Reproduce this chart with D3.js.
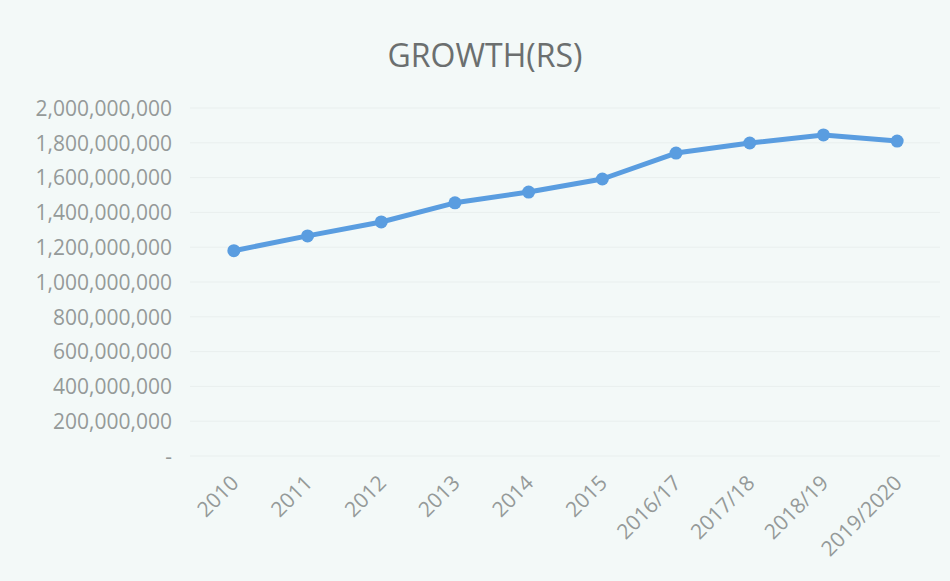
<!DOCTYPE html>
<html lang="en">
<head>
    <meta charset="UTF-8">
    <title>growth</title>
    <script src="https://d3js.org/d3.v7.min.js"></script>
    <style>
        body { margin: 0; background: #f3f9f8; }
        .axis text { font-family: "Open Sans", sans-serif; fill: #959a99; }
        .grid line { stroke: #e9efee; stroke-width: 1; }
    </style>
</head>
<body>
<script>
    const width = 950
    const height = 581

    const years = ['2010', '2011', '2012', '2013', '2014', '2015', '2016/17', '2017/18', '2018/19', '2019/2020']
    const growth = [1180000000, 1265000000, 1345000000, 1455000000, 1517000000, 1592000000, 1741000000, 1799000000, 1845000000, 1810000000]
    const yTicks = [0, 200000000, 400000000, 600000000, 800000000, 1000000000, 1200000000, 1400000000, 1600000000, 1800000000, 2000000000]

    const svg = d3.select("body").append("svg")
        .attr("width", width)
        .attr("height", height)

    svg.append("rect")
        .attr("width", width).attr("height", height)
        .attr("fill", "#f3f9f8")

    const xScale = d3.scaleBand()
        .domain(years)
        .range([197, 934])
    const yScale = d3.scaleLinear()
        .domain([0, 2000000000])
        .range([456, 108])

    // gridlines
    svg.append("g")
        .attr("class", "grid")
        .selectAll("line")
        .data(yTicks)
        .join("line")
        .attr("x1", 190).attr("x2", 940)
        .attr("y1", d => yScale(d)).attr("y2", d => yScale(d))

    const fmt = d3.format(",")
    const yAxis = d3.axisLeft(yScale)
        .tickValues(yTicks)
        .tickSize(0)
        .tickPadding(0)
        .tickFormat(d => d === 0 ? "-" : fmt(d))
    svg.append("g")
        .attr("class", "axis")
        .attr("transform", "translate(172,0)")
        .call(yAxis)
        .call(g => g.select(".domain").remove())
        .selectAll("text")
        .attr("font-size", 21)
        .attr("dy", "0.35em")

    const xAxis = d3.axisBottom(xScale).tickSize(0).tickPadding(0)
    svg.append("g")
        .attr("class", "axis")
        .attr("transform", "translate(0,479)")
        .call(xAxis)
        .call(g => g.select(".domain").remove())
        .selectAll("text")
        .attr("font-size", 21)
        .attr("text-anchor", "end")
        .attr("dy", "0.35em")
        .attr("transform", "translate(1,0) rotate(-45)")

    const line = d3.line()
        .x((d, i) => xScale(years[i]) + xScale.bandwidth() / 2)
        .y(d => yScale(d))

    svg.append("path")
        .datum(growth)
        .attr("fill", "none")
        .attr("stroke", "#5a9de0")
        .attr("stroke-width", 5)
        .attr("stroke-linejoin", "round")
        .attr("d", line)

    svg.selectAll(".dot")
        .data(growth)
        .join("circle")
        .attr("class", "dot")
        .attr("cx", (d, i) => xScale(years[i]) + xScale.bandwidth() / 2)
        .attr("cy", d => yScale(d))
        .attr("r", 6.5)
        .attr("fill", "#5a9de0")

    svg.append("text")
        .text("GROWTH(RS)")
        .attr("x", 485)
        .attr("y", 67)
        .attr("text-anchor", "middle")
        .attr("font-family", "Open Sans, sans-serif")
        .attr("font-size", 32)
        .attr("fill", "#6b6f6f")
</script>
</body>
</html>
